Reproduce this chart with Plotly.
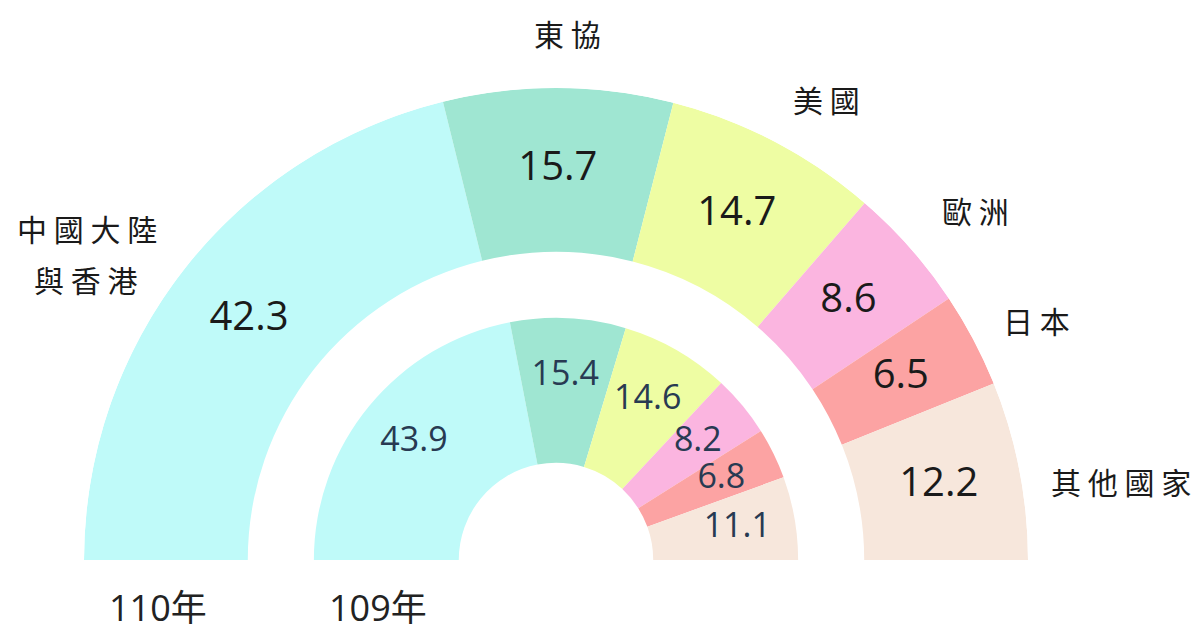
import plotly.graph_objects as go

# ---- data ----
regions = ["中國大陸與香港", "東協", "美國", "歐洲", "日本", "其他國家"]
share_110 = [42.3, 15.7, 14.7, 8.6, 6.5, 12.2]
share_109 = [43.9, 15.4, 14.6, 8.2, 6.8, 11.1]
colors = ["#BFFAF9", "#9FE6D2", "#EEFDA3", "#FBB5E0", "#FCA3A3", "#F7E7DC"]
year_labels = ["110年", "109年"]

# ---- helpers ----
DEG_PER_PCT = 180.0 / 100.0


def mids_widths(vals):
    mids, widths, cum = [], [], 0.0
    for v in vals:
        widths.append(v * DEG_PER_PCT)
        mids.append((cum + v / 2.0) * DEG_PER_PCT)
        cum += v
    return mids, widths


# ring geometry (radial units, 0..100)
OUT_BASE, OUT_TOP = 65.3, 100.0
IN_BASE, IN_TOP = 20.6, 51.3

fig = go.Figure()

for vals, base, top, lab_r, fcol, fsize in [
    (share_110, OUT_BASE, OUT_TOP, 82.6, "#1a1a1a", 40),
    (share_109, IN_BASE, IN_TOP, 39.0, "#283a52", 34),
]:
    mids, widths = mids_widths(vals)
    fig.add_trace(go.Barpolar(
        theta=mids, width=widths,
        r=[top - base] * len(vals), base=[base] * len(vals),
        marker=dict(color=colors, line=dict(width=0)),
        hoverinfo="skip", showlegend=False,
    ))
    fig.add_trace(go.Scatterpolar(
        theta=mids, r=[lab_r] * len(vals), mode="text",
        text=[f"{v:.1f}" for v in vals],
        textfont=dict(family="Open Sans", size=fsize, color=fcol),
        cliponaxis=False, hoverinfo="skip", showlegend=False,
    ))

W, H = 1197, 632
cx, cy, R = 556, 560, 472

fig.update_layout(
    width=W, height=H,
    margin=dict(l=0, r=0, t=0, b=0),
    paper_bgcolor="white",
    showlegend=False,
    polar=dict(
        domain=dict(x=[(cx - R) / W, (cx + R) / W],
                    y=[(H - cy) / H, (H - cy + R) / H]),
        sector=[0, 180],
        bgcolor="rgba(0,0,0,0)",
        angularaxis=dict(visible=False, direction="clockwise", rotation=180,
                         showgrid=False, showline=False, ticks=""),
        radialaxis=dict(visible=False, range=[0, 100], showgrid=False,
                        showline=False, ticks=""),
        hole=0,
    ),
)

cjk = "Noto Sans CJK TC"
label_font = dict(family=cjk, size=30, color="#1a1a1a")


def spaced(s):
    return " ".join(list(s))


# category labels (paper positions); first one is split over two lines
label_lines = {
    "中國大陸與香港": [("中國大陸", 87, 228), ("與香港", 85, 279)],
    "東協": [("東協", 567, 33)],
    "美國": [("美國", 826, 99)],
    "歐洲": [("歐洲", 975, 210)],
    "日本": [("日本", 1036, 320)],
    "其他國家": [("其他國家", 1121, 481)],
}
for name in regions:
    for txt, x, y in label_lines[name]:
        fig.add_annotation(x=x / W, y=1 - y / H, xref="paper", yref="paper",
                           text=spaced(txt), showarrow=False, xanchor="center",
                           yanchor="middle", font=label_font, align="center")

# year labels
for txt, x in zip(year_labels, [158, 378]):
    fig.add_annotation(x=x / W, y=1 - 607 / H, xref="paper", yref="paper",
                       text=txt, showarrow=False, xanchor="center",
                       yanchor="middle",
                       font=dict(family="Open Sans, " + cjk, size=36, color="#222222"))

fig.write_html("out.html")
